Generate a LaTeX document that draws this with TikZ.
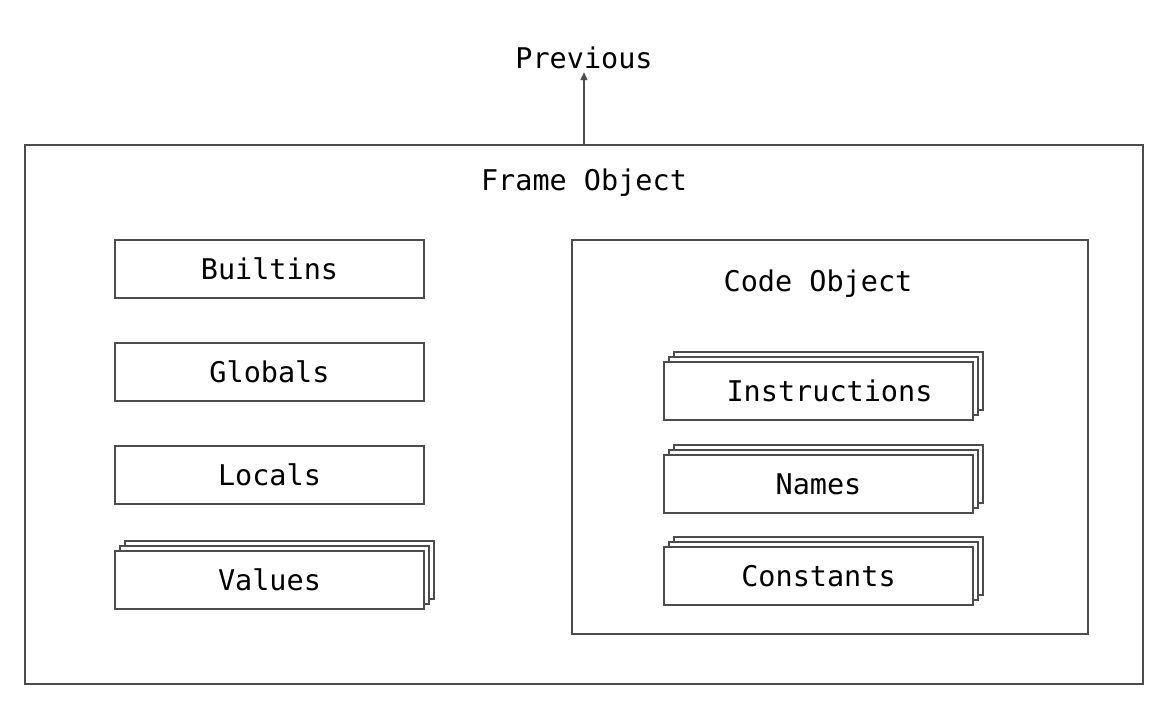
\documentclass[tikz,border=0pt]{standalone}
\usepackage{fontspec}
\setmonofont{DejaVu Sans Mono}
\usetikzlibrary{arrows.meta}
\newcommand\stackbox[3]{%
  \node[item, xshift=10pt, yshift=10pt] (#1-c) at (#2) {};
  \node[item, xshift=5pt, yshift=5pt] (#1-b) at (#2) {};
  \node[item] (#1) at (#2) {#3};}
\begin{document}
\begin{tikzpicture}[x=1pt,y=-1pt,
  lbl/.style={font=\ttfamily\fontsize{28.5}{32}\selectfont, text=black, inner sep=0pt},
  item/.style={lbl, draw=black!70, line width=1.2pt, fill=white, minimum width=309pt, minimum height=58pt},
  frm/.style={draw=black!70, line width=1.2pt}]
\useasboundingbox (0,0) rectangle (1169,710);
\node[frm, minimum width=1118pt, minimum height=539pt, inner sep=0pt] (frame) at (584,414.5) {};
\node[lbl] (prev) at (584,58) {Previous};
\node[lbl] (ftitle) at (584,183) {Frame Object};
\node[item] (builtins) at (269.5,269) {Builtins};
\node[item] (globals) at (269.5,372) {Globals};
\node[item] (locals) at (269.5,475) {Locals};
\stackbox{values}{269.5,580}{Values}
\node[frm, minimum width=516pt, minimum height=394pt, inner sep=0pt] (code) at (830,437) {};
\node[lbl] (ctitle) at (818,284) {Code Object};
\stackbox{instr}{818.5,391}{\hspace*{22pt}Instructions}
\stackbox{names}{818.5,484}{Names}
\stackbox{consts}{818.5,576}{Constants}
\draw[draw=black!70, line width=1.2pt, -{Triangle[length=8pt,width=7pt]}] (frame.north -| prev) -- ([yshift=-3pt]prev.south);
\end{tikzpicture}
\end{document}
